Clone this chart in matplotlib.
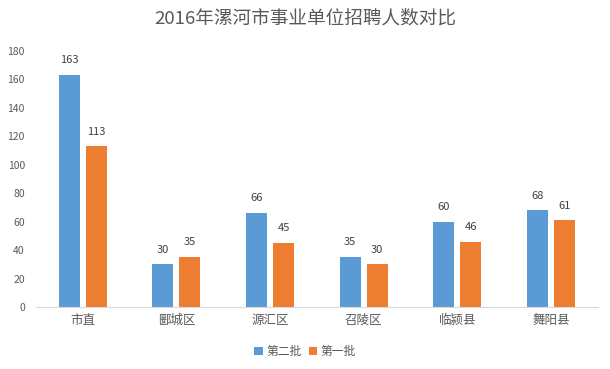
import numpy as np
import matplotlib
matplotlib.use('Agg')
import matplotlib.pyplot as plt

plt.rcParams['font.family'] = ['Noto Sans CJK SC', 'DejaVu Sans']

# 数据
categories = ['市直', '郾城区', '源汇区', '召陵区', '临颍县', '舞阳县']
batch2 = [163, 30, 66, 35, 60, 68]   # 第二批
batch1 = [113, 35, 45, 30, 46, 61]   # 第一批
yticks = [0, 20, 40, 60, 80, 100, 120, 140, 160, 180]

blue = '#5B9BD5'
orange = '#ED7D31'
text_c = '#595959'

fig = plt.figure(figsize=(6.1, 3.69), dpi=100)
ax = fig.add_axes([0.059, 0.168, 0.921, 0.694])

x = np.arange(len(categories))
w = 0.225
off = 0.144
b1 = ax.bar(x - off, batch2, w, color=blue, label='第二批')
b2 = ax.bar(x + off, batch1, w, color=orange, label='第一批')

for bars in (b1, b2):
    for r in bars:
        ax.annotate(str(int(r.get_height())), (r.get_x() + r.get_width() / 2, r.get_height()),
                    xytext=(0, 7), textcoords='offset points', ha='center', va='bottom',
                    fontsize=8, color='#404040')

ax.set_xlim(-0.5, len(categories) - 0.5)
ax.set_ylim(0, 180)
ax.set_yticks(yticks)
ax.set_xticks(x)
ax.set_xticklabels(categories, fontsize=9, color=text_c)
ax.tick_params(axis='y', labelsize=7.5, labelcolor=text_c, length=0, pad=8)
ax.tick_params(axis='x', length=0, pad=5)
for s in ('top', 'right', 'left'):
    ax.spines[s].set_visible(False)
ax.spines['bottom'].set_color('#D9D9D9')

fig.suptitle('2016年漯河市事业单位招聘人数对比', y=0.975, fontsize=13.4, color=text_c)
fig.legend(loc='center', bbox_to_anchor=(0.5, 0.048), ncol=2, frameon=False,
           fontsize=8.5, handlelength=0.7, handleheight=0.7, handletextpad=0.3,
           columnspacing=0.6, labelcolor=text_c)

fig.savefig('out.png', dpi=100)
